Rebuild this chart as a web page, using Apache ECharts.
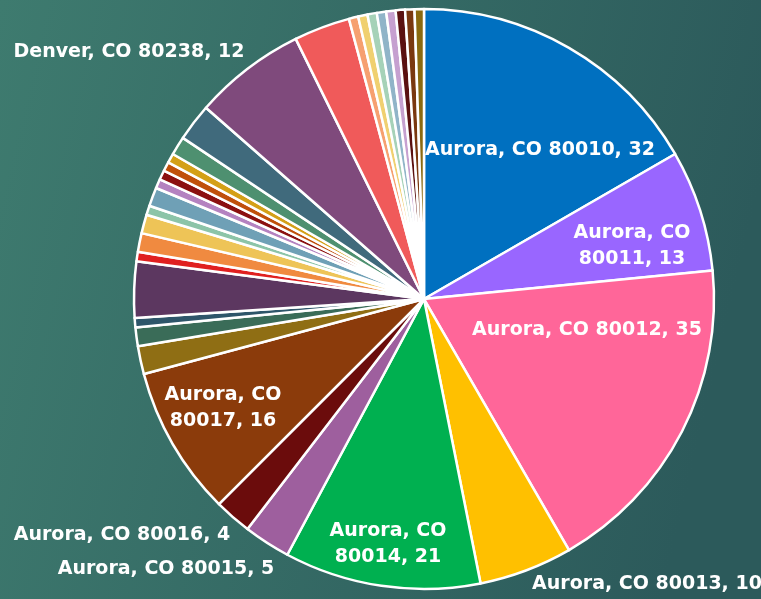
<!DOCTYPE html>
<html>
<head>
<meta charset="utf-8">
<script src="https://cdn.jsdelivr.net/npm/echarts@6/dist/echarts.min.js"></script>
<style>
  html, body { margin: 0; padding: 0; }
  #chart { width: 761px; height: 599px; }
</style>
</head>
<body>
<div id="chart"></div>
<script>
// slices, clockwise from 12 o'clock
const names = [
  'Aurora, CO 80010', 'Aurora, CO 80011', 'Aurora, CO 80012', 'Aurora, CO 80013',
  'Aurora, CO 80014', 'Aurora, CO 80015', 'Aurora, CO 80016', 'Aurora, CO 80017',
  'Aurora, CO 80018', 'Aurora, CO 80019', 'Aurora, CO 80040', 'Aurora, CO 80041',
  'Aurora, CO 80042', 'Aurora, CO 80044', 'Aurora, CO 80045', 'Aurora, CO 80046',
  'Aurora, CO 80047', 'Bennett, CO 80102', 'Brighton, CO 80601', 'Centennial, CO 80112',
  'Commerce City, CO 80022', 'Denver, CO 80203', 'Denver, CO 80220', 'Denver, CO 80238',
  'Denver, CO 80239', 'Denver, CO 80247', 'Denver, CO 80249', 'Englewood, CO 80112',
  'Greenwood Village, CO 80111', 'Littleton, CO 80122', 'Parker, CO 80134',
  'Thornton, CO 80229', 'Watkins, CO 80137'
];
const values = [
  32, 13, 35, 10,
  21, 5, 4, 16,
  3, 2, 1, 6,
  1, 2, 2, 1,
  2, 1, 1, 1,
  1, 2, 4, 12,
  6, 1, 1, 1,
  1, 1, 1,
  1, 1
];
const labelled = [
  'Aurora, CO 80010', 'Aurora, CO 80011', 'Aurora, CO 80012', 'Aurora, CO 80013',
  'Aurora, CO 80014', 'Aurora, CO 80015', 'Aurora, CO 80016', 'Aurora, CO 80017',
  'Denver, CO 80238'
];
const wrapped = ['Aurora, CO 80011', 'Aurora, CO 80014', 'Aurora, CO 80017'];

const colors = [
  '#0070c0', '#9966ff', '#ff6699', '#ffc000',
  '#00b050', '#9e5f9e', '#6b0c0c', '#8b3b0b',
  '#8f6e14', '#3a6c58', '#2e566a', '#5c3760',
  '#e02020', '#f08a40', '#eec457', '#8cc4a8',
  '#6fa0b6', '#b482c0', '#8b1010', '#c0500a',
  '#d4a017', '#4e9070', '#406a7c', '#7f4a7c',
  '#f05a5a', '#f6a070', '#f0d070', '#a6d2b8',
  '#90b4c8', '#c6a0d0', '#5a1010', '#7a3810',
  '#8a6a10'
];

// where each visible label sits (centre of text)
const labelPos = {
  'Aurora, CO 80010': [540, 150],
  'Aurora, CO 80011': [632, 246],
  'Aurora, CO 80012': [587, 330],
  'Aurora, CO 80013': [647, 584],
  'Aurora, CO 80014': [388, 544],
  'Aurora, CO 80015': [166, 569],
  'Aurora, CO 80016': [122, 535],
  'Aurora, CO 80017': [223, 408],
  'Denver, CO 80238': [129, 52]
};

const data = names.map((n, i) => ({
  name: n,
  value: values[i],
  itemStyle: { color: colors[i] },
  label: { show: labelled.includes(n) }
}));

const chart = echarts.init(document.getElementById('chart'));
chart.setOption({
  animation: false,
  backgroundColor: new echarts.graphic.LinearGradient(0, 0, 1, 0.3, [
    { offset: 0, color: '#3e7b6f' },
    { offset: 1, color: '#2c5a5b' }
  ]),
  series: [{
    type: 'pie',
    center: [424, 299],
    radius: 290,
    startAngle: 90,
    clockwise: true,
    avoidLabelOverlap: false,
    emphasis: { disabled: true },
    itemStyle: { borderColor: '#ffffff', borderWidth: 2.5 },
    label: {
      position: 'inside',
      color: '#ffffff',
      fontFamily: 'DejaVu Sans',
      fontWeight: 'bold',
      fontSize: 19,
      lineHeight: 26,
      formatter: p => wrapped.includes(p.name)
        ? p.name.replace(' 800', '\n800') + ', ' + p.value
        : p.name + ', ' + p.value
    },
    labelLine: { show: false },
    labelLayout: function (params) {
      const name = names[params.dataIndex];
      const pos = labelPos[name];
      if (!pos) return {};
      return { x: pos[0], y: pos[1], align: 'center', verticalAlign: 'middle' };
    },
    data: data
  }]
});
</script>
</body>
</html>
